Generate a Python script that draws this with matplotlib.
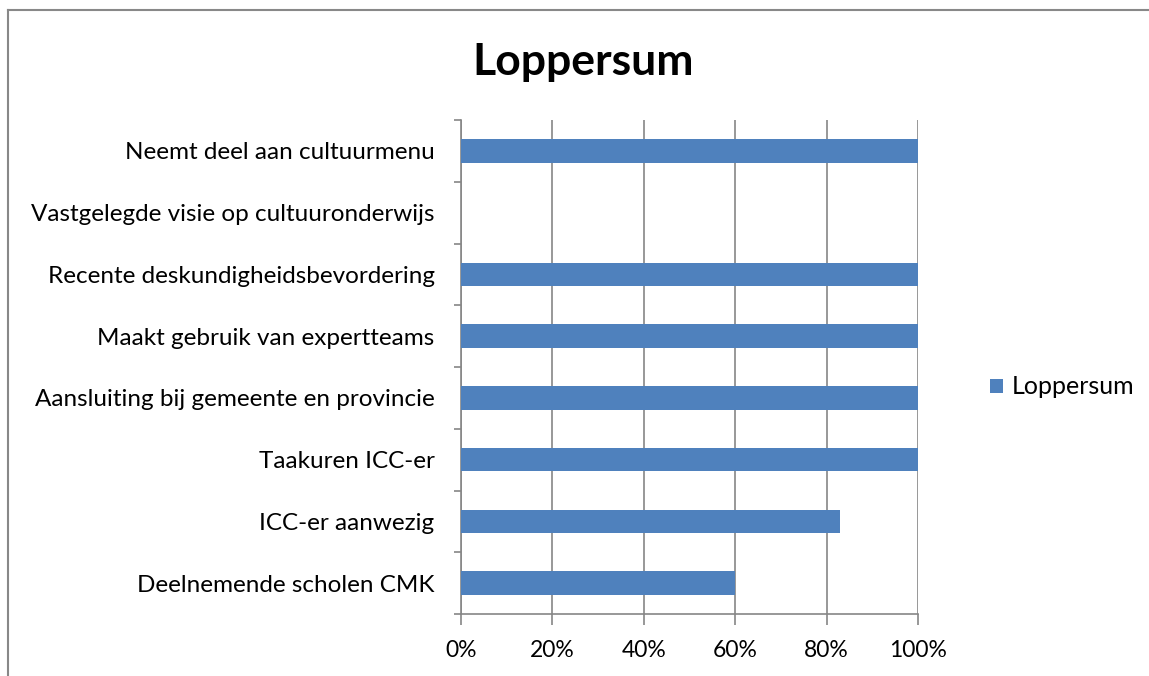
import matplotlib
matplotlib.use("Agg")
import matplotlib.pyplot as plt
from matplotlib.lines import Line2D
from matplotlib.patches import Patch

categories = [
    "Deelnemende scholen CMK",
    "ICC-er aanwezig",
    "Taakuren ICC-er",
    "Aansluiting bij gemeente en provincie",
    "Maakt gebruik van expertteams",
    "Recente deskundigheidsbevordering",
    "Vastgelegde visie op cultuuronderwijs",
    "Neemt deel aan cultuurmenu",
]
values = [0.60, 0.83, 1.0, 1.0, 1.0, 1.0, 0.0, 1.0]
xticks = [0, 0.2, 0.4, 0.6, 0.8, 1.0]
xticklabels = ["0%", "20%", "40%", "60%", "80%", "100%"]
series_name = "Loppersum"
title = "Loppersum"

plt.rcParams['font.family'] = ['Lato', 'DejaVu Sans']

W, H = 1149, 676
fig = plt.figure(figsize=(W / 100, H / 100), dpi=100)
ax = fig.add_axes([461 / W, 1 - 614 / H, (918 - 461) / W, (614 - 120) / H])

bar_color = "#4F81BD"
grid_color = "#868686"
ypos = list(range(len(categories)))
ax.barh(ypos, values, height=0.38, color=bar_color, zorder=3)
ax.set_xlim(0, 1.0)
ax.set_ylim(-0.5, len(categories) - 0.5)
ax.set_xticks(xticks)
ax.set_xticklabels(xticklabels, fontsize=16.5)
ax.set_yticks(ypos)
ax.set_yticklabels(categories, fontsize=17.5)
ax.set_yticks([i - 0.5 for i in range(len(categories) + 1)], minor=True)
ax.tick_params(axis='y', which='major', length=0, pad=19)
ax.tick_params(axis='y', which='minor', length=5, color=grid_color, width=1.2)
ax.tick_params(axis='x', length=8, color=grid_color, width=1.2, pad=11, direction='out')
ax.grid(axis='x', color=grid_color, linewidth=1.2, zorder=0)
for s in ['top', 'right']:
    ax.spines[s].set_visible(False)
for s in ['left', 'bottom']:
    ax.spines[s].set_color(grid_color)
    ax.spines[s].set_linewidth(1.2)
ax.set_axisbelow(True)

fig.text(583 / W, 1 - 62 / H, title, ha='center', va='center', fontsize=32, fontweight='bold')

handle = Patch(facecolor=bar_color, edgecolor='none')
fig.legend([handle], [series_name], loc='center left', bbox_to_anchor=(990 / W, 1 - 387 / H),
           frameon=False, fontsize=18, handlelength=0.5, handleheight=0.5, handletextpad=0.35,
           borderpad=0, borderaxespad=0)

# chart border (top and left visible)
fig.add_artist(Line2D([7.5 / W, 1], [1 - 9.5 / H, 1 - 9.5 / H], color="#888888", linewidth=1.5))
fig.add_artist(Line2D([7.5 / W, 7.5 / W], [0, 1 - 9.5 / H], color="#888888", linewidth=1.5))

fig.savefig("out.png", dpi=100)
